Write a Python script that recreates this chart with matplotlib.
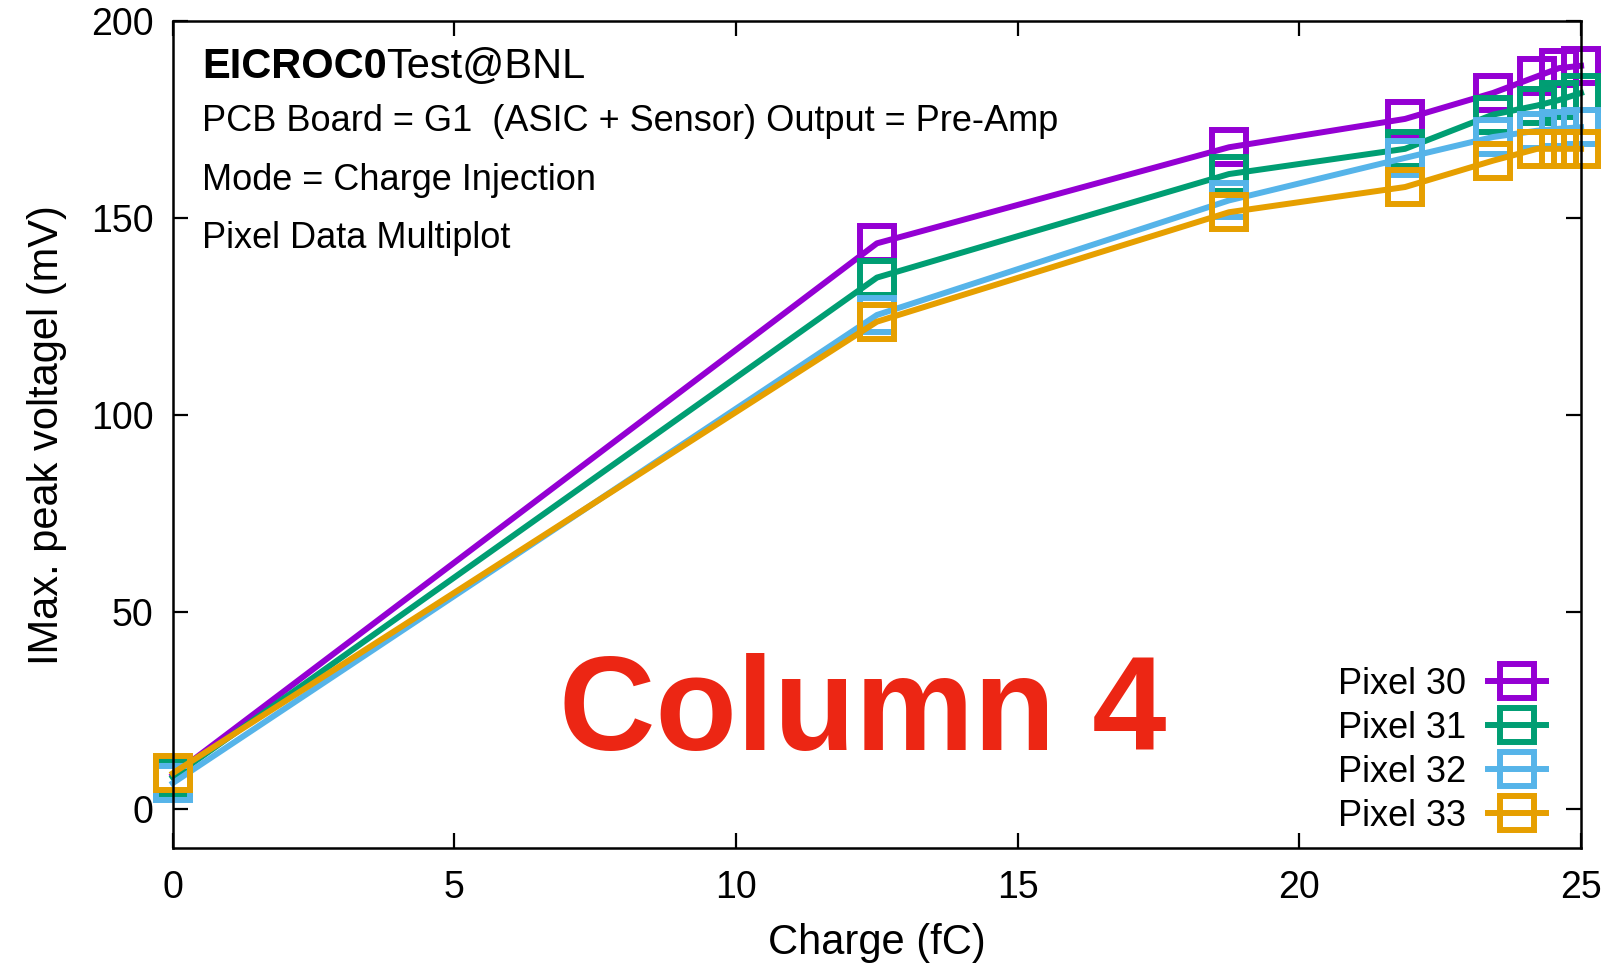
import matplotlib
matplotlib.use("Agg")
import matplotlib.pyplot as plt

plt.rcParams['font.family'] = ['Liberation Sans', 'DejaVu Sans']

# ---- data ----
charge = [0, 12.5, 18.75, 21.875, 23.4375, 24.21875, 24.609375, 25]
pixel30 = [8.5, 143.6, 168.0, 175.2, 181.8, 186.0, 188.1, 188.7]
pixel31 = [8.0, 134.9, 161.2, 167.6, 176.3, 178.6, 180.0, 181.8]
pixel32 = [6.5, 125.4, 154.5, 165.3, 170.6, 172.2, 172.7, 173.1]
pixel33 = [9.0, 123.7, 151.5, 157.9, 164.6, 167.6, 167.6, 167.6]
series_labels = ["Pixel 30", "Pixel 31", "Pixel 32", "Pixel 33"]
series_colors = ["#9400d3", "#009e73", "#56b4e9", "#e69f00"]
xticks = [0, 5, 10, 15, 20, 25]
yticks = [0, 50, 100, 150, 200]

fig = plt.figure(figsize=(16.15, 9.67), dpi=100)
ax = fig.add_axes([0.107, 0.123, 0.872, 0.855])

for ys, lab, col in zip([pixel30, pixel31, pixel32, pixel33], series_labels, series_colors):
    ax.plot(charge, ys, color=col, lw=4.3, marker='s', markersize=24,
            markerfacecolor='none', markeredgewidth=4.3, markeredgecolor=col,
            label=lab, clip_on=False)

ax.set_xlim(0, 25)
ax.set_ylim(-10, 200)
ax.set_xticks(xticks)
ax.set_yticks(yticks)
ax.tick_params(direction='in', length=11, width=1.6, top=True, right=True,
               labelsize=27)
ax.tick_params(axis='x', pad=16)
ax.tick_params(axis='y', pad=14)
for sp in ax.spines.values():
    sp.set_linewidth(1.8)

ax.set_xlabel("Charge (fC)", fontsize=30, labelpad=12)
ax.set_ylabel("IMax. peak voltagel (mV)", fontsize=30, labelpad=17)

t1 = ax.text(0.0206, 0.921, "EICROC0", transform=ax.transAxes, fontsize=30,
             fontweight='bold', va='bottom', ha='left')
ax.annotate("Test@BNL", xy=(1, 0), xycoords=t1, fontsize=30, va='bottom', ha='left')
ax.text(0.0206, 0.8785, "PCB Board = G1  (ASIC + Sensor) Output = Pre-Amp",
        transform=ax.transAxes, fontsize=26, va='center', ha='left')
ax.text(0.0206, 0.8077, "Mode = Charge Injection",
        transform=ax.transAxes, fontsize=26, va='center', ha='left')
ax.text(0.0206, 0.7376, "Pixel Data Multiplot",
        transform=ax.transAxes, fontsize=26, va='center', ha='left')

ax.text(0.490, 0.1187, "Column 4", transform=ax.transAxes, fontsize=96,
        fontweight='bold', color='#ec2614', ha='center', va='baseline')

leg = ax.legend(loc='lower right', frameon=False, markerfirst=False, fontsize=26,
                handlelength=1.6, labelspacing=0.25, borderaxespad=0.0,
                bbox_to_anchor=(0.985, 0.0), handletextpad=0.6)

fig.savefig("out.png", dpi=100)
